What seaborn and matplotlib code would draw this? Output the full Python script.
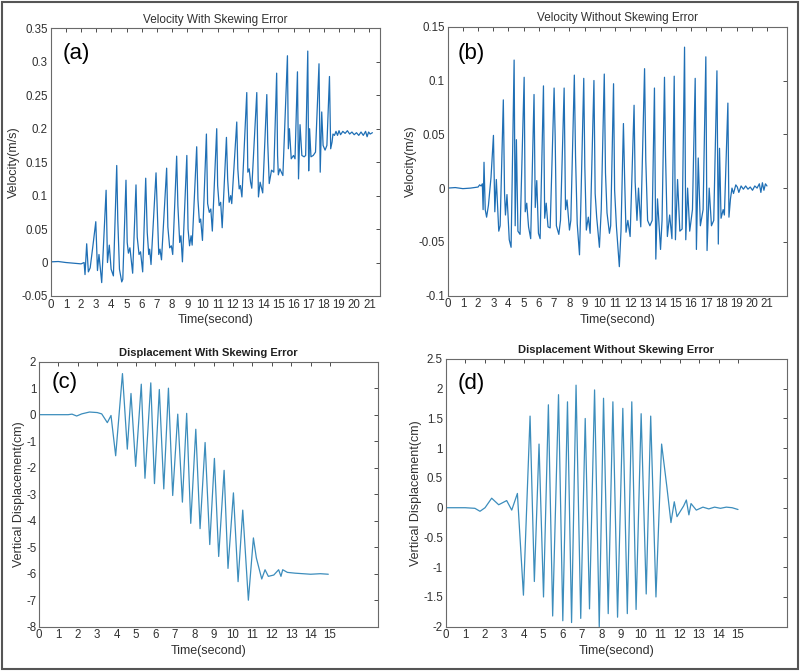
import numpy as np
import pandas as pd
import matplotlib
matplotlib.use("Agg")
import matplotlib.pyplot as plt
from matplotlib.patches import Rectangle
import seaborn as sns

# (a) velocity with skewing error - turning points
vel_skew_t = [0.0, 0.5, 1.0, 1.5, 2.0, 2.2,
              2.26, 2.37, 2.48, 2.6, 2.77, 2.97, 3.08, 3.18, 3.36,
              3.65, 3.74, 3.86, 3.98, 4.13,
              4.35, 4.42, 4.53, 4.68, 4.75,
              4.96, 5.04, 5.12, 5.22, 5.40,
              5.62, 5.70, 5.82, 5.92, 6.06,
              6.26, 6.36, 6.46, 6.52, 6.61,
              6.94, 7.02, 7.12, 7.2, 7.3,
              7.64, 7.72, 7.84, 7.95, 8.04,
              8.30, 8.38, 8.5, 8.58, 8.68,
              8.97, 9.05, 9.15, 9.25, 9.32,
              9.62, 9.70, 9.8, 9.88, 10.0,
              10.26, 10.34, 10.45, 10.55, 10.65,
              10.94, 11.0, 11.1, 11.2, 11.3,
              11.58, 11.66, 11.76, 11.86, 11.93,
              12.26, 12.33, 12.42, 12.5, 12.6,
              12.92, 12.99, 13.08, 13.17, 13.25,
              13.58, 13.63, 13.69, 13.8, 13.97,
              14.24, 14.3, 14.4, 14.55, 14.7,
              14.89, 14.95, 15.0, 15.1, 15.3,
              15.6, 15.66, 15.73, 15.85, 16.0, 16.1,
              16.26, 16.33, 16.43, 16.55, 16.7, 16.8,
              16.94, 17.0, 17.06, 17.15, 17.3, 17.45,
              17.68, 17.76, 17.86, 17.95, 18.08, 18.2,
              18.37, 18.45, 18.54, 18.6, 18.7, 18.8, 18.9, 19.0, 19.1, 19.25,
              19.4, 19.55, 19.7, 19.85, 20.0, 20.15, 20.3, 20.45, 20.6, 20.75,
              20.85, 20.95, 21.05, 21.2]
vel_skew_v = [0.001, 0.0015, 0.0, -0.001, -0.002, 0.0,
              -0.018, 0.028, -0.014, -0.008, 0.023, 0.061, -0.012, 0.012, -0.030,
              0.108, 0.0, 0.026, -0.01, -0.02,
              0.145, 0.063, -0.01, -0.029, -0.025,
              0.123, 0.03, 0.014, 0.022, -0.016,
              0.116, 0.038, 0.012, 0.016, -0.014,
              0.126, 0.045, 0.012, 0.02, -0.003,
              0.134, 0.078, 0.012, 0.02, 0.004,
              0.141, 0.053, 0.022, 0.025, 0.012,
              0.159, 0.085, 0.03, 0.04, 0.001,
              0.160, 0.05, 0.025, 0.04, 0.026,
              0.173, 0.095, 0.06, 0.065, 0.033,
              0.192, 0.088, 0.075, 0.08, 0.047,
              0.200, 0.115, 0.085, 0.09, 0.052,
              0.187, 0.125, 0.09, 0.1, 0.088,
              0.210, 0.14, 0.11, 0.115, 0.098,
              0.254, 0.135, 0.14, 0.12, 0.111,
              0.254, 0.185, 0.098, 0.12, 0.104,
              0.251, 0.18, 0.118, 0.138, 0.135,
              0.283, 0.16, 0.131, 0.14, 0.13,
              0.309, 0.17, 0.2, 0.155, 0.16, 0.155,
              0.285, 0.125, 0.206, 0.16, 0.158, 0.16,
              0.316, 0.137, 0.2, 0.158, 0.16, 0.165,
              0.297, 0.135, 0.225, 0.175, 0.168, 0.175,
              0.278, 0.17, 0.18, 0.192, 0.19, 0.196, 0.19, 0.197, 0.191, 0.196,
              0.193, 0.197, 0.192, 0.195, 0.191, 0.194, 0.19, 0.195, 0.19, 0.196,
              0.188, 0.195, 0.192, 0.194]

# (b) velocity without skewing error
vel_noskew_t = [0.0, 0.5, 1.0, 1.5, 2.0, 2.1, 2.2, 2.28,
                2.33, 2.39, 2.47, 2.56, 2.68, 2.85, 3.01, 3.1, 3.2, 3.36, 3.45,
                3.66, 3.74, 3.8, 3.9, 4.05, 4.17,
                4.37, 4.44, 4.52, 4.62, 4.76,
                5.03, 5.1, 5.2, 5.32, 5.46,
                5.68, 5.76, 5.86, 5.97, 6.08,
                6.30, 6.38, 6.48, 6.6, 6.74,
                7.0, 7.07, 7.15, 7.31, 7.42,
                7.66, 7.75, 7.85, 8.01, 8.1,
                8.33, 8.41, 8.52, 8.67, 8.75,
                8.95, 9.02, 9.12, 9.25, 9.37,
                9.62, 9.7, 9.8, 9.98, 10.1,
                10.3, 10.38, 10.48, 10.64, 10.72,
                10.91, 10.98, 11.1, 11.29, 11.4,
                11.56, 11.64, 11.73, 11.85, 12.0,
                12.26, 12.33, 12.45, 12.55, 12.7,
                12.95, 13.03, 13.15, 13.3, 13.45,
                13.6, 13.69, 13.8, 14.0, 14.1,
                14.26, 14.33, 14.45, 14.6, 14.75,
                14.9, 14.98, 15.12, 15.27, 15.42,
                15.58, 15.66, 15.78, 15.92, 16.1,
                16.28, 16.36, 16.48, 16.62, 16.8,
                16.98, 17.06, 17.2, 17.35, 17.5,
                17.71, 17.8, 17.88, 17.98, 18.12, 18.2,
                18.43, 18.5, 18.6, 18.7, 18.8, 18.95, 19.05, 19.15, 19.3, 19.45,
                19.6, 19.75, 19.9, 20.05, 20.2, 20.35, 20.5, 20.6, 20.7, 20.8,
                20.9, 21.0]
vel_noskew_v = [0.0, 0.0005, -0.0005, 0.0, 0.001, 0.003, 0.002, 0.004,
                -0.02, 0.024, -0.02, -0.027, -0.016, 0.01, 0.049, -0.022, 0.008, -0.04, -0.035,
                0.082, -0.005, -0.025, -0.006, -0.048, -0.055,
                0.119, -0.035, 0.045, -0.04, -0.043,
                0.103, -0.022, -0.014, -0.036, -0.047,
                0.087, -0.018, 0.007, -0.042, -0.047,
                0.095, -0.028, -0.014, -0.036, -0.037,
                0.093, 0.048, -0.035, -0.043, -0.03,
                0.093, -0.02, -0.011, -0.039, -0.03,
                0.105, 0.029, -0.033, -0.062, -0.02,
                0.102, 0.02, -0.039, -0.027, -0.042,
                0.1, -0.005, -0.027, -0.055, -0.02,
                0.106, 0.014, -0.023, -0.042, -0.035,
                0.097, -0.002, -0.036, -0.073, -0.04,
                0.06, 0.008, -0.041, -0.03, -0.045,
                0.077, 0.006, -0.03, 0.0, -0.036,
                0.111, 0.026, -0.03, -0.035, -0.03,
                0.093, -0.066, -0.01, -0.057, -0.03,
                0.103, 0.03, -0.045, -0.025, -0.047,
                0.104, -0.048, 0.008, -0.04, -0.038,
                0.131, -0.048, 0.0, -0.04, -0.02,
                0.102, -0.057, 0.028, -0.035, -0.02,
                0.122, -0.058, 0.0, -0.035, -0.03,
                0.109, -0.052, 0.037, -0.028, -0.02, -0.025,
                0.079, -0.027, -0.01, 0.0, -0.005, 0.003, 0.001, -0.004, 0.002, -0.001,
                0.002, -0.001, 0.001, -0.002, 0.002, 0.0, 0.004, -0.004, 0.005, -0.002,
                0.004, 0.002]

# (c) displacement with skewing error
disp_skew_t = [0.0, 1.0, 1.5, 1.7, 1.94, 2.2, 2.6, 3.0, 3.23, 3.52, 3.71,
               3.95, 4.30, 4.55, 4.74, 4.98, 5.27, 5.46, 5.76, 5.95, 6.20,
               6.43, 6.67, 6.89, 7.15, 7.39, 7.61, 7.82, 8.08, 8.30, 8.56,
               8.80, 9.04, 9.26, 9.54, 9.74, 10.02, 10.26, 10.50, 10.79, 11.05,
               11.2, 11.48, 11.65, 11.82, 12.1, 12.35, 12.47, 12.56, 12.8, 13.2,
               13.6, 14.0, 14.5, 14.91]
disp_skew_v = [0.0, 0.0, 0.0, 0.02, -0.05, 0.03, 0.1, 0.08, 0.03, -0.3, -0.03,
               -1.55, 1.55, -1.3, 0.8, -1.95, 1.15, -2.4, 1.2, -2.6, 0.95,
               -2.8, 1.0, -3.05, 0.02, -3.3, 0.05, -4.1, -0.55, -4.3, -1.05,
               -4.9, -1.65, -5.35, -2.1, -5.8, -2.95, -6.3, -3.6, -7.0, -4.65,
               -5.4, -6.2, -5.85, -6.1, -6.05, -5.85, -6.1, -5.85, -5.95, -5.98,
               -6.0, -6.02, -6.0, -6.02]

# (d) displacement without skewing error
disp_noskew_t = [0.0, 1.0, 1.5, 1.76, 2.02, 2.36, 2.72, 3.13, 3.39, 3.68,
                 3.99, 4.33, 4.55, 4.79, 5.02, 5.27, 5.49, 5.79, 6.01, 6.25,
                 6.46, 6.69, 6.93, 7.16, 7.38, 7.64, 7.88, 8.10, 8.34, 8.58,
                 8.82, 9.09, 9.32, 9.55, 9.77, 10.03, 10.29, 10.52, 10.79, 11.08,
                 11.35, 11.56, 11.73, 11.87, 12.21, 12.35, 12.48, 12.59, 12.86, 13.2,
                 13.5, 13.8, 14.1, 14.4, 14.7, 15.0]
disp_noskew_v = [0.0, 0.0, -0.01, -0.06, 0.0, 0.16, 0.05, 0.12, -0.04, 0.24,
                 -1.47, 1.54, -1.24, 1.07, -1.5, 1.73, -1.82, 1.9, -1.9, 1.78,
                 -1.93, 2.06, -1.86, 1.5, -1.7, 1.98, -2.0, 1.84, -1.78, 1.78,
                 -1.84, 1.67, -1.78, 1.78, -1.71, 1.58, -1.45, 1.54, -1.5, 1.07,
                 0.35, -0.25, 0.1, -0.15, 0.03, 0.13, -0.12, 0.07, -0.04, 0.01,
                 -0.02, 0.01, -0.01, 0.01, 0.0, -0.03]

panel_titles = ["Velocity With Skewing Error", "Velocity Without Skewing Error",
                "Displacement With Skewing Error", "Displacement Without Skewing Error"]
panel_letters = ["(a)", "(b)", "(c)", "(d)"]
ylabels = ["Velocity(m/s)", "Velocity(m/s)",
           "Vertical Displacement(cm)", "Vertical Displacement(cm)"]

sns.set_theme(style="white")
plt.rcParams['font.family'] = ['Liberation Sans', 'DejaVu Sans']
plt.rcParams['axes.unicode_minus'] = False

fig = plt.figure(figsize=(8.0, 6.71), dpi=100)

# axes boxes placed to match the reference layout
ax_a = fig.add_axes([0.0634, 0.5589, 0.4116, 0.3989])
ax_b = fig.add_axes([0.5596, 0.5593, 0.4238, 0.4009])
ax_c = fig.add_axes([0.0488, 0.0660, 0.4234, 0.3950])
ax_d = fig.add_axes([0.5571, 0.0660, 0.4263, 0.3990])

line_col = "#1f6fb5"
disp_col = "#3c8dbc"
text_col = "#303030"

sns.lineplot(x=vel_skew_t, y=vel_skew_v, ax=ax_a, color=line_col, linewidth=0.9)
sns.lineplot(x=vel_noskew_t, y=vel_noskew_v, ax=ax_b, color=line_col, linewidth=0.9)
sns.lineplot(x=disp_skew_t, y=disp_skew_v, ax=ax_c, color=disp_col, linewidth=0.9)
sns.lineplot(x=disp_noskew_t, y=disp_noskew_v, ax=ax_d, color=disp_col, linewidth=0.9)

ax_a.set_xlim(0, 21.7)
ax_a.set_ylim(-0.05, 0.35)
ax_a.set_xticks(range(0, 22))
ax_a.set_yticks([-0.05, 0, 0.05, 0.1, 0.15, 0.2, 0.25, 0.3, 0.35])
ax_a.set_yticklabels(["-0.05", "0", "0.05", "0.1", "0.15", "0.2", "0.25", "0.3", "0.35"])

ax_b.set_xlim(0, 22.3)
ax_b.set_ylim(-0.1, 0.15)
ax_b.set_xticks(range(0, 22))
ax_b.set_yticks([-0.1, -0.05, 0, 0.05, 0.1, 0.15])
ax_b.set_yticklabels(["-0.1", "-0.05", "0", "0.05", "0.1", "0.15"])

ax_c.set_xlim(0, 17.46)
ax_c.set_ylim(-8, 2)
ax_c.set_xticks(range(0, 16))
ax_c.set_yticks(range(-8, 3))

ax_d.set_xlim(0, 17.5)
ax_d.set_ylim(-2, 2.5)
ax_d.set_xticks(range(0, 16))
ax_d.set_yticks([-2, -1.5, -1, -0.5, 0, 0.5, 1, 1.5, 2, 2.5])
ax_d.set_yticklabels(["-2", "-1.5", "-1", "-0.5", "0", "0.5", "1", "1.5", "2", "2.5"])

# where the (a)-(d) letters sit inside each box
letter_x = [0.037, 0.030, 0.038, 0.036]
letter_y = [0.907, 0.902, 0.920, 0.909]

axes = [ax_a, ax_b, ax_c, ax_d]
for i, ax in enumerate(axes):
    ax.tick_params(direction="in", top=True, right=True, length=3, width=0.6,
                   labelsize=8.3, colors=text_col, pad=2)
    for sp in ax.spines.values():
        sp.set_color("#6a6a6a")
        sp.set_linewidth(0.8)
    if i >= 2:
        ax.set_title(panel_titles[i], fontsize=8.0, fontweight="bold", color="#202020", pad=4)
    else:
        ax.set_title(panel_titles[i], fontsize=8.5, color=text_col, pad=4)
    ax.set_xlabel("Time(second)", fontsize=9, color=text_col, labelpad=2.5)
    ax.set_ylabel(ylabels[i], fontsize=9, color=text_col, labelpad=1)
    ax.text(letter_x[i], letter_y[i], panel_letters[i], transform=ax.transAxes,
            fontsize=16, ha="left", va="center", color="black")

# outer frame around the whole figure
fig.patches.append(Rectangle((0.002, 0.003), 0.996, 0.994, transform=fig.transFigure,
                             fill=False, edgecolor="#555555", linewidth=1.5))

fig.savefig("out.png", dpi=100)
